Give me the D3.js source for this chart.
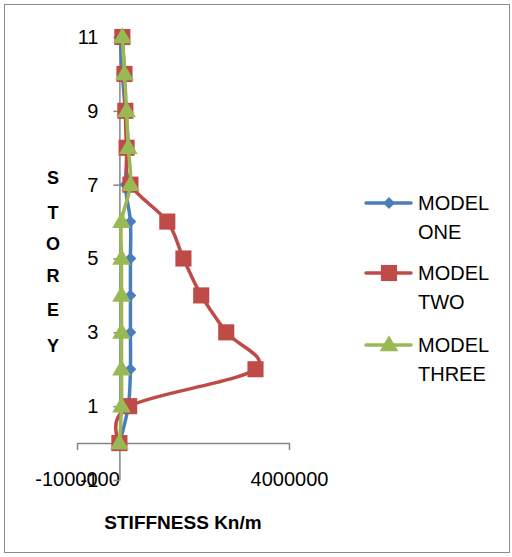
<!DOCTYPE html>
<html>
<head>
<meta charset="utf-8">
<script src="https://cdn.jsdelivr.net/npm/d3@7/dist/d3.min.js"></script>
<style>
  html, body { margin: 0; padding: 0; background: #fff; }
  svg { display: block; }
</style>
</head>
<body>
<svg id="chart" width="512" height="557"></svg>
<script>
// ---- data ----
const storeys = [0, 1, 2, 3, 4, 5, 6, 7, 8, 9, 10, 11];
const modelOne = [0, 210000, 260000, 260000, 260000, 260000, 260000, 140000, 210000, 140000, 70000, 20000];
const modelTwo = [0, 230000, 3210000, 2520000, 1930000, 1510000, 1130000, 260000, 170000, 140000, 120000, 70000];
const modelThree = [0, 50000, 50000, 50000, 50000, 50000, 50000, 260000, 210000, 170000, 120000, 70000];
const seriesNames = [["MODEL", "ONE"], ["MODEL", "TWO"], ["MODEL", "THREE"]];
const seriesColors = ["#4A7EBB", "#BE4B48", "#98B954"];
const xTicks = [-1000000, 4000000];
const yTicks = [-1, 1, 3, 5, 7, 9, 11];
const xTitle = "STIFFNESS Kn/m";
const yTitle = "STOREY";

const svg = d3.select("#chart");
const font = "'Liberation Sans', Arial, sans-serif";

// outer border
svg.append("rect").attr("x", 4.5).attr("y", 4.5).attr("width", 505).attr("height", 548)
  .attr("fill", "#fff").attr("stroke", "#8c8c8c").attr("stroke-width", 1);

const x = d3.scaleLinear().domain([-1000000, 4000000]).range([77, 289]);
const y = d3.scaleLinear().domain([-1, 11]).range([480, 37]);

const axisColor = "#868686";

// x axis at y=0
const xAxis = svg.append("g").attr("transform", `translate(0,${y(0)})`)
  .call(d3.axisBottom(x).tickValues(xTicks).tickSize(7).tickSizeOuter(0).tickPadding(22)
    .tickFormat(d => String(d)));
// y axis at x=0
const yAxis = svg.append("g").attr("transform", `translate(${x(0)},0)`)
  .call(d3.axisLeft(y).tickValues(yTicks).tickSize(6).tickSizeOuter(0).tickPadding(15)
    .tickFormat(d => String(d)));

[xAxis, yAxis].forEach(g => {
  g.select(".domain").attr("stroke", axisColor).attr("stroke-width", 1.5);
  g.selectAll(".tick line").attr("stroke", axisColor).attr("stroke-width", 1.5);
  g.selectAll("text").attr("fill", "#000").style("font-family", font).style("font-size", "20px");
});

// series
const allSeries = [modelOne, modelTwo, modelThree];
const line = d3.line().x(d => x(d[0])).y(d => y(d[1])).curve(d3.curveCatmullRom.alpha(0));

const sym = [
  d3.symbol().type(d3.symbolDiamond2).size(90),
  d3.symbol().type(d3.symbolSquare).size(260),
  d3.symbol().type(d3.symbolTriangle).size(150)
];

allSeries.forEach((vals, i) => {
  const pts = storeys.map((s, j) => [vals[j], s]);
  const g = svg.append("g");
  g.append("path").datum(pts).attr("d", line)
    .attr("fill", "none").attr("stroke", seriesColors[i]).attr("stroke-width", 3.5)
    .attr("stroke-linejoin", "round").attr("stroke-linecap", "round");
  g.selectAll("path.m").data(pts).join("path").attr("class", "m")
    .attr("d", sym[i])
    .attr("transform", d => `translate(${x(d[0])},${y(d[1]) + (i === 2 ? 1 : 0)})`)
    .attr("fill", seriesColors[i]);
});

// axis titles
svg.append("text").attr("x", 183).attr("y", 529).attr("text-anchor", "middle")
  .style("font-family", font).style("font-weight", "bold").style("font-size", "19px")
  .text(xTitle);

const yLetterY = [178, 213, 244, 276, 310, 346];
yTitle.split("").forEach((ch, k) => {
  svg.append("text").attr("x", 53).attr("y", yLetterY[k]).attr("dy", "0.35em")
    .attr("text-anchor", "middle")
    .style("font-family", font).style("font-weight", "bold").style("font-size", "18px")
    .text(ch);
});

// legend
const legendY = [203, 273, 345];
seriesNames.forEach((nm, i) => {
  const g = svg.append("g").attr("transform", `translate(0,${legendY[i]})`);
  g.append("line").attr("x1", 366).attr("x2", 411).attr("y1", 0).attr("y2", 0)
    .attr("stroke", seriesColors[i]).attr("stroke-width", 3.5).attr("stroke-linecap", "round");
  g.append("path").attr("d", sym[i]).attr("transform", `translate(389,${i === 2 ? 1 : 0})`)
    .attr("fill", seriesColors[i]);
  nm.forEach((t, k) => {
    g.append("text").attr("x", 418).attr("y", k * 29).attr("dy", "0.36em")
      .style("font-family", font).style("font-size", "20px").text(t);
  });
});
</script>
</body>
</html>
